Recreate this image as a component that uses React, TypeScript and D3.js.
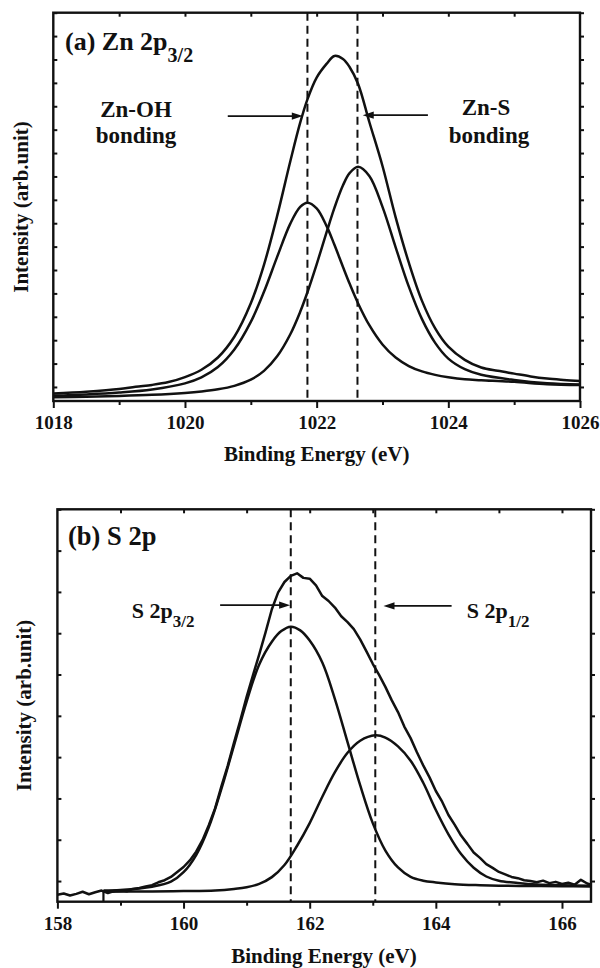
import React, { useEffect, useRef } from 'react';
import * as d3 from 'd3';

const INK = '#111';
const SERIF_CANDIDATES = ['Liberation Serif', 'DejaVu Serif', 'Times New Roman', 'Times', 'Noto Serif', 'Tinos', 'Nimbus Roman', 'FreeSerif'];

// ---------- (a) Zn 2p3/2 ----------
const znEnergy = [1018, 1018.5, 1019, 1019.5, 1020, 1020.25, 1020.5, 1020.75, 1021, 1021.2, 1021.4, 1021.6, 1021.75, 1021.86, 1022, 1022.15, 1022.27, 1022.4, 1022.5, 1022.63, 1022.8, 1023, 1023.2, 1023.4, 1023.6, 1023.8, 1024, 1024.25, 1024.5, 1025, 1025.5, 1026];
const znOH = [-3.7, -3.17, -2.37, -1.06, 1.55, 4.11, 8.51, 16.03, 27.84, 40.67, 55.61, 69.81, 76.95, 78.76, 76.34, 68.86, 60.76, 51.29, 44.19, 35.72, 26.41, 18.18, 12.58, 8.95, 6.64, 5.18, 4.17, 3.29, 2.9, 2.2, 1.18, 0.8];
const znS = [-4.45, -4.21, -3.86, -3.35, -2.53, -1.91, -1.01, 0.47, 3.12, 6.9, 13.09, 22.54, 32.12, 40.48, 52.43, 66.04, 76.57, 86.2, 91.41, 94.15, 90.21, 76.98, 59.7, 42.88, 28.99, 18.85, 12.12, 7.6, 5.2, 3.0, 1.6, 1.03];
const znTotalEnergy = [1018, 1018.5, 1019, 1019.25, 1019.5, 1019.75, 1020, 1020.25, 1020.5, 1020.75, 1021, 1021.2, 1021.4, 1021.6, 1021.75, 1021.86, 1022, 1022.15, 1022.27, 1022.4, 1022.5, 1022.63, 1022.8, 1023, 1023.2, 1023.4, 1023.6, 1023.8, 1024, 1024.25, 1024.5, 1024.75, 1025, 1025.25, 1025.5, 1025.75, 1026];
const znTotal = [-2.79, -2.04, -0.91, 0.1, 0.88, 2.1, 4.24, 7.36, 12.6, 21.48, 35.79, 52.22, 73.12, 96.49, 112.97, 122.95, 132.25, 138.1, 141.5, 140.21, 136.8, 129.53, 113.28, 94.47, 72.5, 53.14, 36.8, 25.06, 17.23, 11.6, 8.3, 6.9, 5.7, 4.5, 3.6, 3.0, 2.5];
const znPeaks = [1021.86, 1022.62];
const znMajor = [1018, 1020, 1022, 1024, 1026];
const znMinor = [1019, 1021, 1023, 1025];
const znTop = [1019, 1020, 1021, 1022, 1023, 1024, 1025];
const znYTicks = [0, 10, 20, 30, 40, 50, 60, 70, 80, 90, 100, 110, 120, 130, 140, 150, 160];

// ---------- (b) S 2p ----------
const sEnergy = [158.0, 158.1, 158.2, 158.3, 158.4, 158.5, 158.6, 158.7, 158.8, 158.9, 159.0, 159.1, 159.2, 159.3, 159.4, 159.5, 159.6, 159.7, 159.8, 159.9, 160.0, 160.1, 160.2, 160.3, 160.4, 160.5, 160.6, 160.7, 160.8, 160.9, 161.0, 161.1, 161.2, 161.3, 161.4, 161.5, 161.6, 161.7, 161.8, 161.9, 162.0, 162.1, 162.2, 162.3, 162.4, 162.5, 162.6, 162.7, 162.8, 162.9, 163.0, 163.1, 163.2, 163.3, 163.4, 163.5, 163.6, 163.7, 163.8, 163.9, 164.0, 164.1, 164.2, 164.3, 164.4, 164.5, 164.6, 164.7, 164.8, 164.9, 165.0, 165.1, 165.2, 165.3, 165.4, 165.5, 165.6, 165.7, 165.8, 165.9, 166.0, 166.1, 166.2, 166.3, 166.4, 166.45];
const sTotal = [-3.3, -3.0, -3.5, -3.1, -2.6, -3.2, -2.7, -2.3, -2.9, -2.4, -2.2, -2.5, -1.9, -1.7, -1.3, -1.0, -0.3, 0.2, 1.0, 2.2, 3.4, 5.0, 7.1, 9.9, 13.5, 17.6, 22.9, 27.9, 33.5, 38.9, 44.6, 49.8, 54.9, 60.2, 65.8, 69.9, 72.4, 73.9, 74.5, 73.4, 73.2, 71.6, 69.0, 67.8, 66.2, 64.1, 62.7, 61.0, 58.5, 55.6, 52.6, 49.9, 47.0, 43.8, 40.9, 37.4, 34.6, 31.2, 28.0, 25.1, 21.8, 19.2, 16.0, 13.6, 11.0, 9.0, 6.9, 5.6, 4.1, 3.2, 2.2, 1.6, 1.0, 0.7, 0.2, 0.0, -0.3, 0.1, -0.5, -0.2, -0.7, -0.4, -0.9, 0.3, -0.6, -0.8];
const s32Energy = [158.73, 159, 159.5, 159.8, 160, 160.2, 160.4, 160.6, 160.8, 161, 161.2, 161.4, 161.55, 161.7, 161.85, 162, 162.2, 162.4, 162.6, 162.8, 163, 163.2, 163.4, 163.6, 163.8, 164, 164.3, 164.7, 165, 165.5, 166, 166.45];
const s32 = [-2.27, -2.14, -1.37, -0.16, 2.14, 6.3, 13.02, 22.3, 32.86, 43.45, 52.44, 57.94, 60.51, 61.58, 60.69, 58.23, 52.91, 44.07, 33.64, 23.21, 14.02, 7.38, 3.29, 1.02, 0.09, -0.33, -0.76, -1.01, -1.13, -1.2, -1.26, -1.29];
const s12Energy = [158.73, 159.5, 160, 160.5, 160.8, 161, 161.2, 161.4, 161.6, 161.8, 162, 162.2, 162.4, 162.6, 162.8, 163.04, 163.2, 163.4, 163.6, 163.8, 164, 164.2, 164.4, 164.6, 164.8, 165, 165.3, 165.6, 166, 166.45];
const s12 = [-2.58, -2.53, -2.43, -2.26, -1.9, -1.5, -0.68, 0.95, 3.88, 8.55, 14.04, 20.42, 26.38, 31.05, 33.97, 35.29, 34.73, 32.6, 29.13, 23.79, 17.19, 11.3, 6.53, 3.21, 1.1, 0.08, -0.47, -0.84, -1.03, -1.13];
const sPeaks = [161.7, 163.04];
const sMajor = [158, 160, 162, 164, 166];
const sMinor = [159, 161, 163, 165];
const sTop = [159, 160, 161, 162, 163, 164, 165, 166];
const sYTicks = [0, 10, 20, 30, 40, 50, 60, 70, 80, 90];
const sFitStart = 158.73;

type Sel = d3.Selection<SVGSVGElement, unknown, null, undefined>;
type Lin = d3.ScaleLinear<number, number>;

// pick a serif family that is really installed (measured against generic fallbacks)
function pickSerif(): string {
  const c = document.createElement('canvas').getContext('2d');
  if (!c) return 'serif';
  const probe = 'Intensity (arb.unit) 1018 WMgq';
  const w = (f: string) => { c.font = `bold 40px ${f}`; return c.measureText(probe).width; };
  const mono = w('monospace');
  const sans = w('sans-serif');
  for (const name of SERIF_CANDIDATES) {
    const a = w(`'${name}', monospace`);
    const b = w(`'${name}', sans-serif`);
    if (a !== mono || b !== sans) return `'${name}', serif`;
  }
  return 'serif';
}

let FONT = 'serif';

function frame(svg: Sel, x: Lin, y: Lin, major: number[], minor: number[], top: number[], yt: number[]) {
  const [x0, x1] = x.range();
  const [y0, y1] = y.range();

  const bot = svg.append('g').attr('transform', `translate(0,${y0})`)
    .call(d3.axisBottom(x).tickValues(major).tickSize(7).tickSizeOuter(0).tickPadding(7.5).tickFormat(d3.format('d')));
  const botMinor = svg.append('g').attr('transform', `translate(0,${y0})`)
    .call(d3.axisBottom(x).tickValues(minor).tickSize(4).tickSizeOuter(0).tickFormat(() => ''));
  const topAx = svg.append('g').attr('transform', `translate(0,${y1})`)
    .call(d3.axisTop(x).tickValues(top).tickSize(-4).tickSizeOuter(0).tickFormat(() => ''));
  const left = svg.append('g').attr('transform', `translate(${x0},0)`)
    .call(d3.axisLeft(y).tickValues(yt).tickSize(-4).tickSizeOuter(0).tickFormat(() => ''));
  const right = svg.append('g').attr('transform', `translate(${x1},0)`)
    .call(d3.axisRight(y).tickValues(yt).tickSize(4).tickSizeOuter(0).tickFormat(() => ''));

  [bot, botMinor, topAx, left, right].forEach(g => {
    g.select('.domain').remove();
    g.attr('font-family', null).attr('font-size', null);
    g.selectAll('line').attr('stroke', INK).attr('stroke-width', 2);
  });
  bot.selectAll('text')
    .style('font-family', FONT).style('font-size', '19px').style('font-weight', 'bold').attr('fill', INK);

  svg.append('rect')
    .attr('x', x0).attr('y', y1).attr('width', x1 - x0).attr('height', y0 - y1)
    .attr('fill', 'none').attr('stroke', INK).attr('stroke-width', 2.4);
}

function curve(svg: Sel, x: Lin, y: Lin, xs: number[], ys: number[], smooth: boolean) {
  const line = d3.line<number>()
    .x((_, i) => x(xs[i]))
    .y(d => y(d))
    .curve(smooth ? d3.curveCatmullRom.alpha(0.5) : d3.curveLinear);
  svg.append('path').attr('d', line(ys)).attr('fill', 'none')
    .attr('stroke', INK).attr('stroke-width', 2.5).attr('stroke-linejoin', 'round');
}

function dashed(svg: Sel, x: Lin, y: Lin, at: number[]) {
  const [y0, y1] = y.range();
  at.forEach(e => {
    svg.append('line').attr('x1', x(e)).attr('x2', x(e)).attr('y1', y1).attr('y2', y0)
      .attr('stroke', INK).attr('stroke-width', 2).attr('stroke-dasharray', '8,5');
  });
}

function arrow(svg: Sel, xFrom: number, xTo: number, yy: number) {
  const dir = Math.sign(xTo - xFrom);
  svg.append('line').attr('x1', xFrom).attr('x2', xTo - dir * 8).attr('y1', yy).attr('y2', yy)
    .attr('stroke', INK).attr('stroke-width', 1.8);
  svg.append('path')
    .attr('d', `M${xTo},${yy} L${xTo - dir * 11},${yy - 3.6} L${xTo - dir * 11},${yy + 3.6} Z`)
    .attr('fill', INK);
}

function label(svg: Sel, x: number, y: number, text: string, size: number, anchor = 'start', sub?: string, subSize = 0, subDy = 0) {
  const t = svg.append('text').attr('x', x).attr('y', y)
    .style('font-family', FONT).style('font-weight', 'bold').style('font-size', `${size}px`)
    .attr('fill', INK).attr('text-anchor', anchor);
  t.append('tspan').text(text);
  if (sub) t.append('tspan').style('font-size', `${subSize}px`).attr('dy', subDy).text(sub);
  return t;
}

export default function App() {
  const ref = useRef<SVGSVGElement>(null);

  useEffect(() => {
    FONT = pickSerif();
    const svg = d3.select(ref.current as SVGSVGElement) as Sel;
    svg.selectAll('*').remove();

    // panel (a)
    const xA = d3.scaleLinear().domain([1018, 1026]).range([53.3, 580]);
    const yA = d3.scaleLinear().domain([-6, 160]).range([401, 12.7]);
    dashed(svg, xA, yA, znPeaks);
    curve(svg, xA, yA, znEnergy, znOH, true);
    curve(svg, xA, yA, znEnergy, znS, true);
    curve(svg, xA, yA, znTotalEnergy, znTotal, true);
    frame(svg, xA, yA, znMajor, znMinor, znTop, znYTicks);
    arrow(svg, xA(1020.65), xA(1021.79), yA(115.8));
    arrow(svg, xA(1023.69), xA(1022.7), yA(116.2));
    label(svg, 65, 50, '(a) Zn 2p', 26, 'start', '3/2', 20, 12);
    label(svg, 136, 117, 'Zn-OH', 23, 'middle');
    label(svg, 136, 143, 'bonding', 23, 'middle');
    label(svg, 486, 115, 'Zn-S', 23, 'middle');
    label(svg, 489, 143, 'bonding', 23, 'middle');
    label(svg, 316.7, 461, 'Binding Energy (eV)', 21, 'middle');
    label(svg, 0, 0, 'Intensity (arb.unit)', 21, 'middle')
      .attr('transform', 'translate(28,207) rotate(-90)');

    // panel (b)
    const xB = d3.scaleLinear().domain([158, 166.46]).range([57.4, 591]);
    const yB = d3.scaleLinear().domain([-5, 90]).range([901.7, 509.3]);
    dashed(svg, xB, yB, sPeaks);
    svg.append('line').attr('x1', xB(sFitStart)).attr('x2', xB(sFitStart))
      .attr('y1', yB(-5)).attr('y2', yB(s32[0])).attr('stroke', INK).attr('stroke-width', 2.2);
    curve(svg, xB, yB, s32Energy, s32, true);
    curve(svg, xB, yB, s12Energy, s12, true);
    curve(svg, xB, yB, sEnergy, sTotal, false);
    frame(svg, xB, yB, sMajor, sMinor, sTop, sYTicks);
    arrow(svg, xB(160.58), xB(161.69), yB(66.8));
    arrow(svg, xB(164.25), xB(163.17), yB(66.6));
    label(svg, 68, 545, '(b) S 2p', 26.5);
    label(svg, 131.7, 618, 'S 2p', 22, 'start', '3/2', 17, 9);
    label(svg, 466.7, 618, 'S 2p', 22, 'start', '1/2', 17, 9);
    label(svg, 324, 963, 'Binding Energy (eV)', 21, 'middle');
    label(svg, 0, 0, 'Intensity (arb.unit)', 21, 'middle')
      .attr('transform', 'translate(31,705.5) rotate(-90)');
  }, []);

  return (
    <svg
      ref={ref}
      width={600}
      height={968}
      style={{ position: 'absolute', left: 0, top: 0, background: '#fff' }}
    />
  );
}
